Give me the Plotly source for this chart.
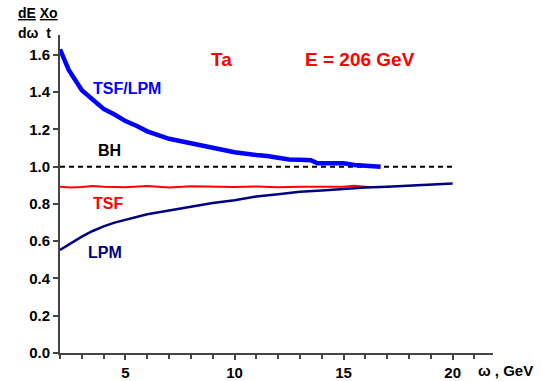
import plotly.graph_objects as go

# TSF/LPM ratio (blue, thick)
ratio_x = [2, 2.4, 3, 3.5, 4, 4.5, 5, 5.5, 6, 6.5, 7, 7.5, 8, 8.5, 9, 9.5, 10, 10.5,
           11, 11.5, 12, 12.5, 13, 13.5, 13.8, 14.5, 15, 15.5, 16, 16.7]
ratio_y = [1.63, 1.52, 1.41, 1.36, 1.31, 1.28, 1.245, 1.22, 1.19, 1.17, 1.15, 1.138, 1.125,
           1.11, 1.098, 1.09, 1.078, 1.068, 1.063, 1.057, 1.045, 1.039, 1.037, 1.035,
           1.018, 1.018, 1.018, 1.009, 1.003, 1.0]

# LPM (navy)
lpm_x = [2, 2.5, 3, 3.5, 4, 4.5, 5, 5.5, 6, 7, 8, 9, 10, 11, 12, 13, 14, 15, 16, 17, 18, 19, 20]
lpm_y = [0.553, 0.59, 0.625, 0.655, 0.68, 0.7, 0.715, 0.73, 0.745, 0.765, 0.785, 0.805, 0.82,
         0.84, 0.852, 0.865, 0.872, 0.882, 0.888, 0.893, 0.9, 0.905, 0.91]

# TSF (red)
tsf_x = [2, 2.5, 3, 3.5, 4, 5, 6, 7, 8, 9, 10, 11, 12, 13, 14, 15, 15.5, 16, 16.2]
tsf_y = [0.893, 0.889, 0.891, 0.896, 0.893, 0.89, 0.896, 0.889, 0.895, 0.893, 0.891, 0.894,
         0.89, 0.892, 0.892, 0.893, 0.898, 0.891, 0.89]

# BH (dashed)
bh_x = [2, 20]
bh_y = [1.0, 1.0]

x_ticks = [5, 10, 15, 20]
y_ticks = [0.0, 0.2, 0.4, 0.6, 0.8, 1.0, 1.2, 1.4, 1.6]

FONT = "Liberation Sans, Arial, sans-serif"

fig = go.Figure()
fig.add_trace(go.Scatter(x=bh_x, y=bh_y, mode="lines",
                         line=dict(color="black", width=2, dash="5px,4px")))
fig.add_trace(go.Scatter(x=tsf_x, y=tsf_y, mode="lines",
                         line=dict(color="#ff0000", width=2)))
fig.add_trace(go.Scatter(x=lpm_x, y=lpm_y, mode="lines",
                         line=dict(color="#000080", width=2.5)))
fig.add_trace(go.Scatter(x=ratio_x, y=ratio_y, mode="lines",
                         line=dict(color="#0000ff", width=4.5)))

axis_common = dict(showline=True, linecolor="#444444", linewidth=2, ticks="outside",
                   tickcolor="#444444", tickwidth=1.5, ticklen=5, showgrid=False,
                   zeroline=False, automargin=False,
                   tickfont=dict(family=FONT, size=15, color="black", weight="bold"))

fig.update_layout(
    width=541, height=381,
    margin=dict(l=60, r=48, t=35, b=28, autoexpand=False),
    plot_bgcolor="white", paper_bgcolor="white",
    showlegend=False,
    xaxis=dict(range=[2, 21.85], tickvals=x_ticks,
               minor=dict(dtick=1, ticks="outside", ticklen=4, tickcolor="#444444",
                          tickwidth=1.5, tick0=0),
               **axis_common),
    yaxis=dict(range=[0, 1.707], tickvals=y_ticks, tickformat=".1f", **axis_common),
)

def ann(text, x, y, color, size, xref="x", yref="y", xanchor="center"):
    fig.add_annotation(text=text, x=x, y=y, xref=xref, yref=yref, showarrow=False,
                       xanchor=xanchor, yanchor="middle",
                       font=dict(family=FONT, size=size, color=color, weight="bold"))

ann("TSF/LPM", 5.09, 1.42, "#0000ff", 16)
ann("Ta", 9.4, 1.575, "#ff0000", 19)
ann("E = 206 GeV", 15.73, 1.575, "#ff0000", 19)
ann("BH", 4.27, 1.085, "black", 16)
ann("TSF", 4.22, 0.80, "#ff0000", 16)
ann("LPM", 4.04, 0.54, "#000080", 16)

# paper-pixel helpers for outside text
W, H = 541, 381
def px(xp):
    return (xp - 60) / (W - 60 - 48)
def py(yp):
    return 1 - (yp - 35) / (H - 35 - 28)

ann("<u>dE</u> <u>Xo</u>", px(16), py(13), "black", 14, xref="paper", yref="paper", xanchor="left")
ann("dω  t", px(16), py(33), "black", 14, xref="paper", yref="paper", xanchor="left")
ann("ω , GeV", px(476), py(370), "black", 15, xref="paper", yref="paper", xanchor="left")

fig.write_html("out.html")
